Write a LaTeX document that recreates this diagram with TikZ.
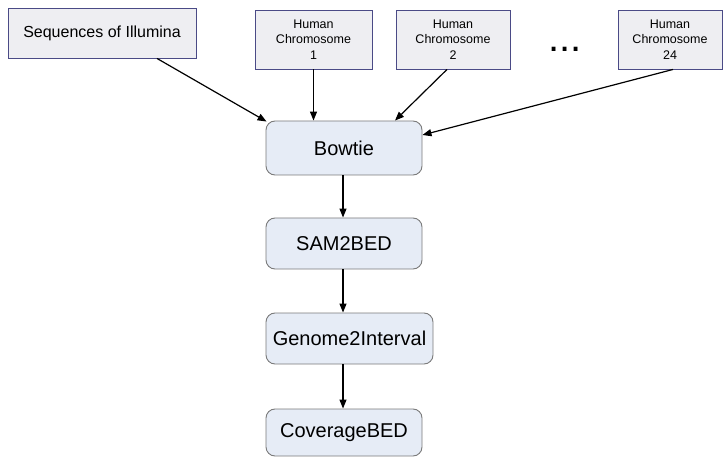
\documentclass[tikz,border=0pt]{standalone}
\usepackage{fontspec}
\setmainfont{Liberation Sans}
\usetikzlibrary{arrows.meta,calc}
\definecolor{topfill}{HTML}{EEEEF2}
\definecolor{topline}{HTML}{4A4A86}
\definecolor{botfill}{HTML}{E6ECF6}
\definecolor{botline}{HTML}{7A7A7A}
\tikzset{
  inbox/.style={draw=topline, fill=topfill, line width=0.9pt, inner sep=0pt, align=center},
  chrbox/.style={inbox, minimum height=59pt, font=\fontsize{12.5}{15.5}\selectfont},
  procbox/.style={draw=botline, fill=botfill, line width=0.9pt, rounded corners=9pt, inner sep=0pt, minimum width=156pt, font=\fontsize{20}{24}\selectfont},
  flow/.style={-{Triangle[length=9pt,width=7pt]}, line width=1.2pt, black},
}
\begin{document}
\begin{tikzpicture}[x=1pt,y=-1pt]
\useasboundingbox (0,0) rectangle (723,457);
\node[inbox, minimum width=188pt, minimum height=50pt, font=\fontsize{16}{19}\selectfont] (seq) at (102,33) {Sequences of Illumina};
\node[chrbox, minimum width=117pt] (c1) at (313.5,39.5) {Human\\Chromosome\\1};
\node[chrbox, minimum width=114pt] (c2) at (453,39.5) {Human\\Chromosome\\2};
\node[chrbox, minimum width=104pt] (c24) at (670,39.5) {Human\\Chromosome\\24};
\node[anchor=base, font=\fontsize{40}{40}\selectfont, inner sep=0pt] (dots) at (565,52) {...};
\node[procbox, minimum height=54pt] (bow) at (344,148) {Bowtie};
\node[procbox, minimum height=51pt] (sam) at (344,243.5) {SAM2BED};
\node[procbox, minimum height=51pt, minimum width=167pt] (gen) at (349.5,338.5) {Genome2Interval};
\node[procbox, minimum height=47pt] (cov) at (344,432.5) {CoverageBED};
\draw[flow] ([xshift=55pt]seq.south) -- ([xshift=1pt,yshift=-1pt]bow.north west);
\draw[flow] (c1.south) -- (c1.south |- bow.north);
\draw[flow] ([xshift=-6pt]c2.south) -- ([xshift=51pt]bow.north);
\draw[flow] ([xshift=3pt]c24.south) -- ([yshift=13pt]bow.east);
\draw[flow] ([xshift=-1pt]bow.south) -- ([xshift=-1pt]sam.north);
\draw[flow] ([xshift=-1pt]sam.south) -- ([xshift=-1pt]sam.south |- gen.north);
\draw[flow] ([xshift=-1pt]sam.south |- gen.south) -- ([xshift=-1pt]cov.north);
\end{tikzpicture}
\end{document}
